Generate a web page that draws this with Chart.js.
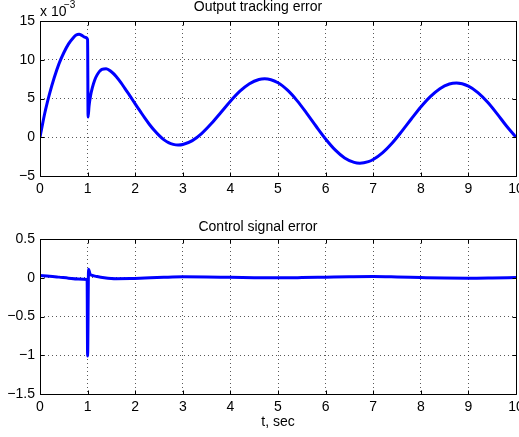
<!DOCTYPE html>
<html>
<head>
<meta charset="utf-8">
<script src="https://cdn.jsdelivr.net/npm/chart.js@4.4.1/dist/chart.umd.min.js"></script>
<style>
	body { margin: 0; background: #fff; }
	#wrap { position: relative; width: 519px; height: 437px; }
	canvas { position: absolute; left: 0; }
</style>
</head>
<body>
<div id="wrap">
	<canvas id="topChart" width="519" height="219" style="top:0"></canvas>
	<canvas id="bottomChart" width="519" height="219" style="top:218px"></canvas>
</div>
<script>
// output tracking error, in units of 1e-3
const timeErr = [0, 0.05, 0.1, 0.15, 0.2, 0.3, 0.4, 0.5, 0.6, 0.7, 0.76, 0.82, 0.88, 0.94, 1.0,
	1.01, 1.03, 1.06, 1.1, 1.15, 1.2, 1.25, 1.3, 1.39, 1.5, 1.6, 1.7, 1.8, 1.9, 2.0,
	2.1, 2.2, 2.3, 2.4, 2.5, 2.6, 2.7, 2.8, 2.9, 3.0, 3.2, 3.4, 3.6, 3.8, 4.0,
	4.2, 4.4, 4.6, 4.72, 5.0, 5.2, 5.4, 5.6, 5.8, 6.0, 6.2, 6.4, 6.6, 6.72, 6.9,
	7.0, 7.2, 7.4, 7.6, 7.8, 8.0, 8.2, 8.4, 8.6, 8.75, 9.0, 9.2, 9.4, 9.6, 9.8, 10];
const outputErr = [0, 1.6, 3.1, 4.4, 5.6, 7.7, 9.5, 10.9, 12.05, 12.85, 13.2, 13.3, 13.15, 12.9, 12.6,
	2.6, 4.0, 5.3, 6.4, 7.4, 8.05, 8.5, 8.75, 8.85, 8.45, 7.85, 7.05, 6.15, 5.25, 4.3,
	3.4, 2.5, 1.65, 0.9, 0.25, -0.3, -0.7, -0.92, -1.0, -0.94, -0.44, 0.5, 1.76, 3.2, 4.65,
	5.94, 6.91, 7.46, 7.55, 7.03, 6.07, 4.73, 3.12, 1.42, -0.22, -1.63, -2.67, -3.25, -3.35, -3.15,
	-2.87, -1.98, -0.74, 0.76, 2.35, 3.9, 5.24, 6.27, 6.87, 7.0, 6.6, 5.76, 4.54, 3.05, 1.45, 0];

// control signal error
const timeCtrl = [0, 0.2, 0.4, 0.6, 0.8, 0.99, 1.0, 1.02, 1.05, 1.1, 1.2, 1.35, 1.6, 1.9, 2.2,
	2.6, 3.0, 3.5, 4.0, 4.5, 5.0, 5.5, 6.0, 6.5, 7.0, 7.5, 8.0, 8.5, 9.0, 9.5, 10];
const controlErr = [0.028, 0.02, 0.008, -0.005, -0.015, -0.022, -1.01, 0.11, 0.05, 0.03, 0.015, 0, -0.012, -0.01, -0.003,
	0.006, 0.012, 0.01, 0.005, 0.001, -0.001, 0.002, 0.007, 0.012, 0.015, 0.01, 0.003, -0.003, -0.005, -0.002, 0.003];

const xRange = [0, 10, 1];
const topRange = [-5, 15, 5];
const bottomRange = [-1.5, 0.5, 0.5];

const FONT = "'Liberation Sans', Arial, Helvetica, sans-serif";

function toPoints(xs, ys) {
	const pts = [];
	for(let i = 0; i < xs.length; i++)
		pts.push({x: xs[i], y: ys[i]});
	return pts;
}

function fmt(v) {
	const r = Math.round(v * 10) / 10;
	return String(r).replace("-", "\u2212");
}

// matlab style box with inward ticks
const frame = {
	id: "frame",
	afterDraw(chart) {
		const {ctx, chartArea: a, scales} = chart;
		const l = Math.round(a.left) + 0.5, r = Math.round(a.right) + 0.5;
		const t = Math.round(a.top) + 0.5, b = Math.round(a.bottom) + 0.5;
		ctx.save();
		ctx.strokeStyle = "#000";
		ctx.lineWidth = 1;
		ctx.beginPath();
		ctx.rect(l, t, r - l, b - t);
		for(const tk of scales.x.ticks) {
			const px = Math.round(scales.x.getPixelForValue(tk.value)) + 0.5;
			ctx.moveTo(px, b); ctx.lineTo(px, b - 4);
			ctx.moveTo(px, t); ctx.lineTo(px, t + 4);
		}
		for(const tk of scales.y.ticks) {
			const py = Math.round(scales.y.getPixelForValue(tk.value)) + 0.5;
			ctx.moveTo(l, py); ctx.lineTo(l + 4, py);
			ctx.moveTo(r, py); ctx.lineTo(r - 4, py);
		}
		ctx.stroke();
		ctx.restore();
	}
};

const multiplier = {
	id: "multiplier",
	afterDraw(chart) {
		const ctx = chart.ctx;
		ctx.save();
		ctx.fillStyle = "#000";
		ctx.textBaseline = "alphabetic";
		ctx.font = "14px " + FONT;
		ctx.fillText("x 10", 40, 15.5);
		ctx.font = "10px " + FONT;
		ctx.fillText("\u22123", 64, 8);
		ctx.restore();
	}
};

function makeChart(el, pts, yRange, title, xTitle, extra) {
	const plugins = [frame];
	if(extra)
		plugins.push(extra);
	return new Chart(el.getContext("2d"), {
		type: "line",
		data: {
			datasets: [{
				data: pts,
				borderColor: "#0000ff",
				borderWidth: 3,
				pointRadius: 0,
				cubicInterpolationMode: "monotone",
				fill: false
			}]
		},
		options: {
			responsive: false,
			animation: false,
			devicePixelRatio: 1,
			layout: {padding: {left: 0, right: 3, top: 0, bottom: 0}},
			plugins: {
				legend: {display: false},
				tooltip: {enabled: false},
				title: {
					display: true,
					text: title.text,
					color: "#000",
					font: {family: FONT, size: 14, weight: "normal", lineHeight: 1},
					padding: title.padding
				}
			},
			scales: {
				x: {
					type: "linear",
					min: xRange[0],
					max: xRange[1],
					grid: {color: "rgba(0,0,0,0.65)", lineWidth: 1, drawTicks: false},
					border: {display: false, dash: [1, 3]},
					ticks: {
						stepSize: xRange[2],
						color: "#000",
						padding: 5,
						maxRotation: 0,
						autoSkip: false,
						font: {family: FONT, size: 14},
						callback: fmt
					},
					title: xTitle ? {
						display: true,
						text: xTitle,
						color: "#000",
						font: {family: FONT, size: 14, lineHeight: 1.2},
						padding: {top: 0, bottom: 6}
					} : {display: false},
					afterFit(s) {
						s.height = 43;
						s.paddingLeft = 0;
						s.paddingRight = 0;
					}
				},
				y: {
					min: yRange[0],
					max: yRange[1],
					grid: {color: "rgba(0,0,0,0.65)", lineWidth: 1, drawTicks: false},
					border: {display: false, dash: [1, 3]},
					ticks: {
						stepSize: yRange[2],
						color: "#000",
						padding: 5,
						font: {family: FONT, size: 14},
						callback: fmt
					},
					afterFit(s) {
						s.width = 40;
						s.paddingTop = 0;
						s.paddingBottom = 0;
					}
				}
			}
		},
		plugins: plugins
	});
}

makeChart(document.getElementById("topChart"), toPoints(timeErr, outputErr), topRange,
	{text: "Output tracking error", padding: {top: 0, bottom: 7}}, null, multiplier);
makeChart(document.getElementById("bottomChart"), toPoints(timeCtrl, controlErr), bottomRange,
	{text: "Control signal error", padding: {top: 2, bottom: 5}}, "t, sec", null);
</script>
</body>
</html>
